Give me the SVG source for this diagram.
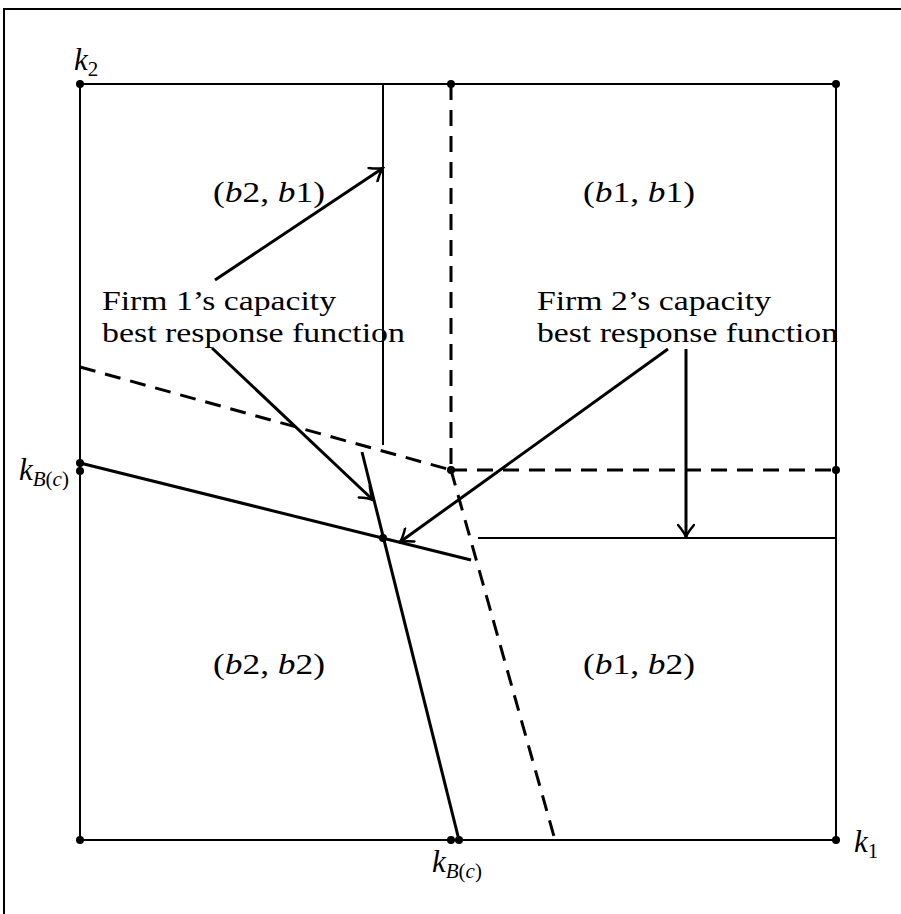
<svg xmlns="http://www.w3.org/2000/svg" width="901" height="914" viewBox="0 0 901 914">
<style>
.t{font-family:"Liberation Serif","Times New Roman",serif;font-size:27px;fill:#000}
.r{font-size:30px}
.k{font-size:31px}
.s{font-size:21px}
.i{font-style:italic}
.thin{stroke:#000;stroke-width:2;fill:none}
.thick{stroke:#000;stroke-width:3;fill:none}
.dash{stroke:#000;stroke-width:3;fill:none;stroke-dasharray:16 10}
.arr{stroke:#000;stroke-width:3;fill:none;marker-end:url(#ah)}
.dot{fill:#000}
</style>
<defs>
<marker id="ah" viewBox="-14 -9 16 18" refX="0" refY="0" markerWidth="16" markerHeight="18" markerUnits="userSpaceOnUse" orient="auto">
<path d="M-12,-8 Q-5,-2 0,0 Q-5,2 -12,8" stroke="#000" stroke-width="2.5" fill="none" stroke-linecap="round"/>
</marker>
</defs>
<rect x="0" y="0" width="901" height="914" fill="#fff"/>
<rect x="4" y="9" width="1000" height="1000" fill="none" stroke="#000" stroke-width="2"/>
<g id="square">
<rect x="80" y="84" width="756" height="756" class="thin"/>
</g>
<g id="connectors">
<line x1="383" y1="84" x2="383" y2="445" class="thin"/>
<line x1="451" y1="84" x2="451" y2="470" class="dash"/>
<line x1="451" y1="470" x2="836" y2="470" class="dash"/>
<line x1="80" y1="367" x2="451" y2="470" class="dash"/>
<line x1="451" y1="470" x2="555" y2="840" class="dash"/>
<line x1="80" y1="463" x2="471" y2="560" class="thick"/>
<line x1="478" y1="538" x2="836" y2="538" class="thin"/>
<line x1="362" y1="452" x2="459" y2="840" class="thick"/>
<line x1="215" y1="280" x2="383" y2="168" class="arr"/>
<line x1="212" y1="348" x2="373" y2="500" class="arr"/>
<line x1="668" y1="349" x2="400" y2="542" class="arr"/>
<line x1="686" y1="349" x2="686" y2="537" class="arr"/>
</g>
<g id="dots">
<circle cx="80" cy="84" r="4" class="dot"/>
<circle cx="451" cy="84" r="4" class="dot"/>
<circle cx="836" cy="84" r="4" class="dot"/>
<circle cx="836" cy="470" r="4" class="dot"/>
<circle cx="451" cy="470" r="4" class="dot"/>
<circle cx="80" cy="463" r="4" class="dot"/>
<circle cx="80" cy="471" r="4" class="dot"/>
<circle cx="383" cy="538" r="4" class="dot"/>
<circle cx="80" cy="840" r="4" class="dot"/>
<circle cx="451" cy="840" r="4" class="dot"/>
<circle cx="459" cy="840" r="4" class="dot"/>
<circle cx="836" cy="840" r="4" class="dot"/>
</g>
<g id="regions">
<text class="t r" x="213" y="202" textLength="112" lengthAdjust="spacingAndGlyphs">(<tspan class="i">b</tspan>2, <tspan class="i">b</tspan>1)</text>
<text class="t r" x="583" y="202" textLength="112" lengthAdjust="spacingAndGlyphs">(<tspan class="i">b</tspan>1, <tspan class="i">b</tspan>1)</text>
<text class="t r" x="213" y="674" textLength="112" lengthAdjust="spacingAndGlyphs">(<tspan class="i">b</tspan>2, <tspan class="i">b</tspan>2)</text>
<text class="t r" x="583" y="674" textLength="112" lengthAdjust="spacingAndGlyphs">(<tspan class="i">b</tspan>1, <tspan class="i">b</tspan>2)</text>
</g>
<g id="labels">
<text class="t" x="102" y="310" textLength="234" lengthAdjust="spacingAndGlyphs">Firm 1’s capacity</text>
<text class="t" x="102" y="342" textLength="303" lengthAdjust="spacingAndGlyphs">best response function</text>
<text class="t" x="537" y="310" textLength="234" lengthAdjust="spacingAndGlyphs">Firm 2’s capacity</text>
<text class="t" x="537" y="342" textLength="301" lengthAdjust="spacingAndGlyphs">best response function</text>
</g>
<g id="axes">
<text class="t k" x="74" y="70"><tspan class="i">k</tspan><tspan class="s" dy="6">2</tspan></text>
<text class="t k" x="854" y="852"><tspan class="i">k</tspan><tspan class="s" dy="6">1</tspan></text>
<text class="t k" x="19" y="480"><tspan class="i">k</tspan><tspan class="s" dy="6"><tspan class="i">B</tspan>(<tspan class="i">c</tspan>)</tspan></text>
<text class="t k" x="432" y="872"><tspan class="i">k</tspan><tspan class="s" dy="6"><tspan class="i">B</tspan>(<tspan class="i">c</tspan>)</tspan></text>
</g>
</svg>
